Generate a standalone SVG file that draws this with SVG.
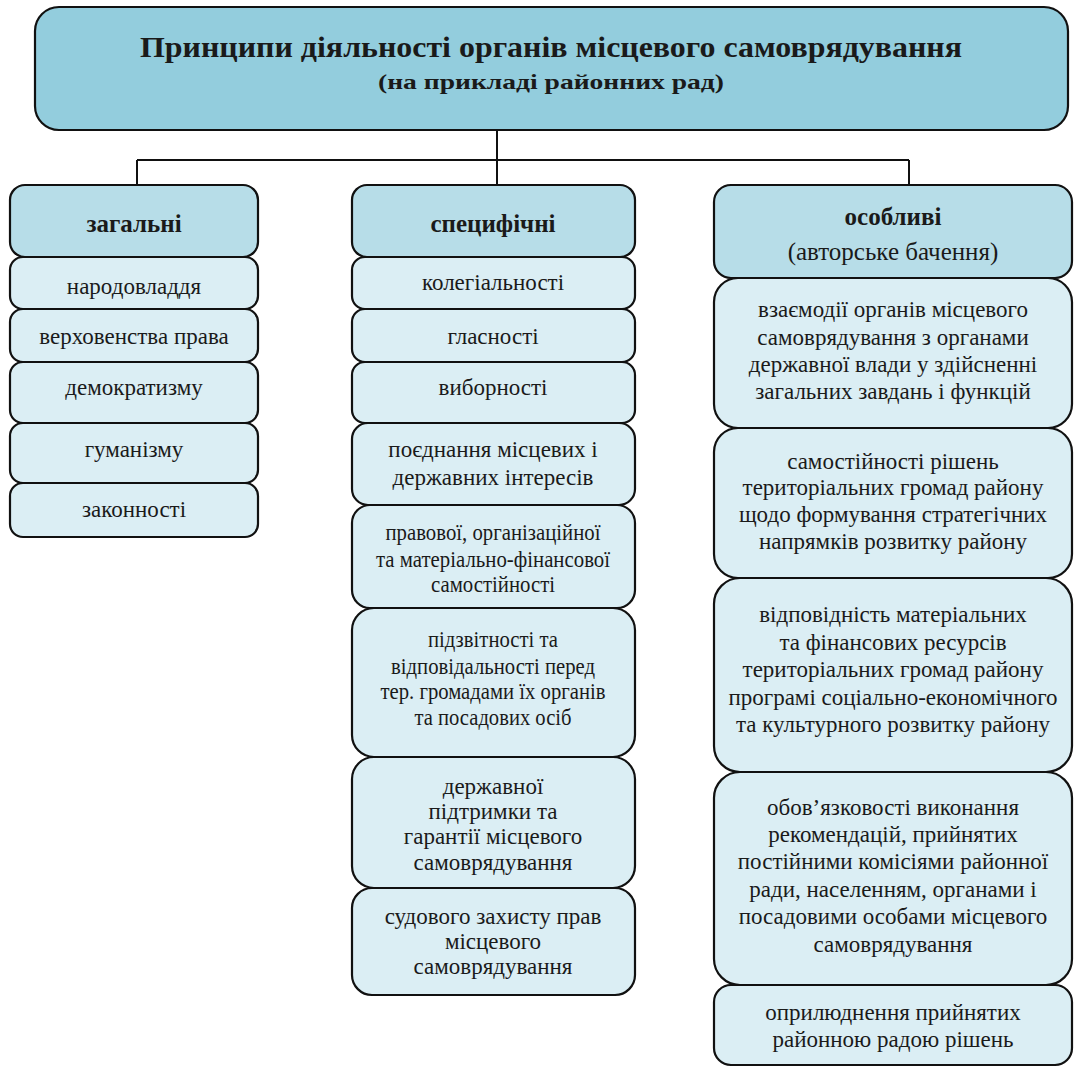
<svg xmlns="http://www.w3.org/2000/svg" width="1075" height="1068" viewBox="0 0 1075 1068">
<style>
.box{stroke:#111;stroke-width:2.2}
.title{fill:#93CDDD}
.hdr{fill:#B7DDE8}
.item{fill:#DBEEF4}
.conn{fill:none;stroke:#111;stroke-width:2}
text{font-family:'Liberation Serif', serif;fill:#1a1a1a;text-anchor:middle}
.t{font-size:23px}
.h{font-size:25px;font-weight:bold}
.sub{font-size:25px}
</style>
<rect width="1075" height="1068" fill="#fff"/>
<g id="connectors">
<path class="conn" d="M497 130 V160 M137 160 H909 M137 160 V185 M497 160 V185 M909 160 V185"/>
</g>
<g id="title">
<rect class="box title" x="35" y="7" width="1033" height="123" rx="24"/>
<text x="551" y="57" font-size="29" font-weight="bold" textLength="822" lengthAdjust="spacingAndGlyphs">Принципи діяльності органів місцевого самоврядування</text>
<text x="551" y="89" font-size="22" font-weight="bold" textLength="346" lengthAdjust="spacingAndGlyphs">(на прикладі районних рад)</text>
</g>
<g id="col1-header"><rect class="box hdr" x="10" y="185" width="248" height="72" rx="15"/><text class="h" x="134" y="232">загальні</text></g>
<g id="c1-1"><rect class="box item" x="10" y="257" width="248" height="52" rx="13"/><text class="t" x="134" y="294">народовладдя</text></g>
<g id="c1-2"><rect class="box item" x="10" y="309" width="248" height="53" rx="13"/><text class="t" x="134" y="344">верховенства права</text></g>
<g id="c1-3"><rect class="box item" x="10" y="362" width="248" height="61" rx="13"/><text class="t" x="134" y="395">демократизму</text></g>
<g id="c1-4"><rect class="box item" x="10" y="423" width="248" height="60" rx="13"/><text class="t" x="134" y="457">гуманізму</text></g>
<g id="c1-5"><rect class="box item" x="10" y="483" width="248" height="54" rx="13"/><text class="t" x="134" y="517">законності</text></g>

<g id="col2-header"><rect class="box hdr" x="352" y="185" width="283" height="72" rx="15"/><text class="h" x="493" y="232">специфічні</text></g>
<g id="c2-1"><rect class="box item" x="352" y="257" width="283" height="52" rx="13"/><text class="t" x="493" y="290">колегіальності</text></g>
<g id="c2-2"><rect class="box item" x="352" y="309" width="283" height="53" rx="13"/><text class="t" x="493" y="344">гласності</text></g>
<g id="c2-3"><rect class="box item" x="352" y="362" width="283" height="61" rx="13"/><text class="t" x="493" y="395">виборності</text></g>
<g id="c2-4"><rect class="box item" x="352" y="423" width="283" height="82" rx="16"/><text class="t" x="493" y="457">поєднання місцевих і</text><text class="t" x="493" y="485">державних інтересів</text></g>
<g id="c2-5"><rect class="box item" x="352" y="505" width="283" height="103" rx="18"/>
<text class="t" x="493" y="540" textLength="215" lengthAdjust="spacingAndGlyphs">правової, організаційної</text>
<text class="t" x="493" y="567" textLength="234" lengthAdjust="spacingAndGlyphs">та матеріально-фінансової</text>
<text class="t" x="493" y="592" textLength="124" lengthAdjust="spacingAndGlyphs">самостійності</text></g>
<g id="c2-6"><rect class="box item" x="352" y="608" width="283" height="149" rx="22"/>
<text class="t" x="493" y="647" textLength="130" lengthAdjust="spacingAndGlyphs">підзвітності та</text>
<text class="t" x="493" y="674" textLength="204" lengthAdjust="spacingAndGlyphs">відповідальності перед</text>
<text class="t" x="493" y="699" textLength="225" lengthAdjust="spacingAndGlyphs">тер. громадами їх органів</text>
<text class="t" x="493" y="725" textLength="157" lengthAdjust="spacingAndGlyphs">та посадових осіб</text></g>
<g id="c2-7"><rect class="box item" x="352" y="757" width="283" height="131" rx="22"/>
<text class="t" x="493" y="794">державної</text>
<text class="t" x="493" y="819">підтримки та</text>
<text class="t" x="493" y="844">гарантії місцевого</text>
<text class="t" x="493" y="870">самоврядування</text></g>
<g id="c2-8"><rect class="box item" x="352" y="888" width="283" height="107" rx="20"/>
<text class="t" x="493" y="924">судового захисту прав</text>
<text class="t" x="493" y="949">місцевого</text>
<text class="t" x="493" y="974">самоврядування</text></g>

<g id="col3-header"><rect class="box hdr" x="714" y="185" width="358" height="93" rx="17"/>
<text class="h" x="893" y="225">особливі</text>
<text class="sub" x="893" y="260">(авторське бачення)</text></g>
<g id="c3-1"><rect class="box item" x="714" y="278" width="358" height="150" rx="24"/>
<text class="t" x="893" y="317">взаємодії органів місцевого</text>
<text class="t" x="893" y="345">самоврядування з органами</text>
<text class="t" x="893" y="372">державної влади у здійсненні</text>
<text class="t" x="893" y="399">загальних завдань і функцій</text></g>
<g id="c3-2"><rect class="box item" x="714" y="428" width="358" height="150" rx="24"/>
<text class="t" x="893" y="469">самостійності рішень</text>
<text class="t" x="893" y="495">територіальних громад району</text>
<text class="t" x="893" y="522">щодо формування стратегічних</text>
<text class="t" x="893" y="549">напрямків розвитку району</text></g>
<g id="c3-3"><rect class="box item" x="714" y="578" width="358" height="194" rx="26"/>
<text class="t" x="893" y="622">відповідність матеріальних</text>
<text class="t" x="893" y="650">та фінансових ресурсів</text>
<text class="t" x="893" y="677">територіальних громад району</text>
<text class="t" x="893" y="705">програмі соціально-економічного</text>
<text class="t" x="893" y="732">та культурного розвитку району</text></g>
<g id="c3-4"><rect class="box item" x="714" y="772" width="358" height="213" rx="26"/>
<text class="t" x="893" y="815">обов’язковості виконання</text>
<text class="t" x="893" y="842">рекомендацій, прийнятих</text>
<text class="t" x="893" y="869">постійними комісіями районної</text>
<text class="t" x="893" y="897">ради, населенням, органами і</text>
<text class="t" x="893" y="924">посадовими особами місцевого</text>
<text class="t" x="893" y="952">самоврядування</text></g>
<g id="c3-5"><rect class="box item" x="714" y="985" width="358" height="80" rx="17"/>
<text class="t" x="893" y="1020">оприлюднення прийнятих</text>
<text class="t" x="893" y="1047">районною радою рішень</text></g>
</svg>
